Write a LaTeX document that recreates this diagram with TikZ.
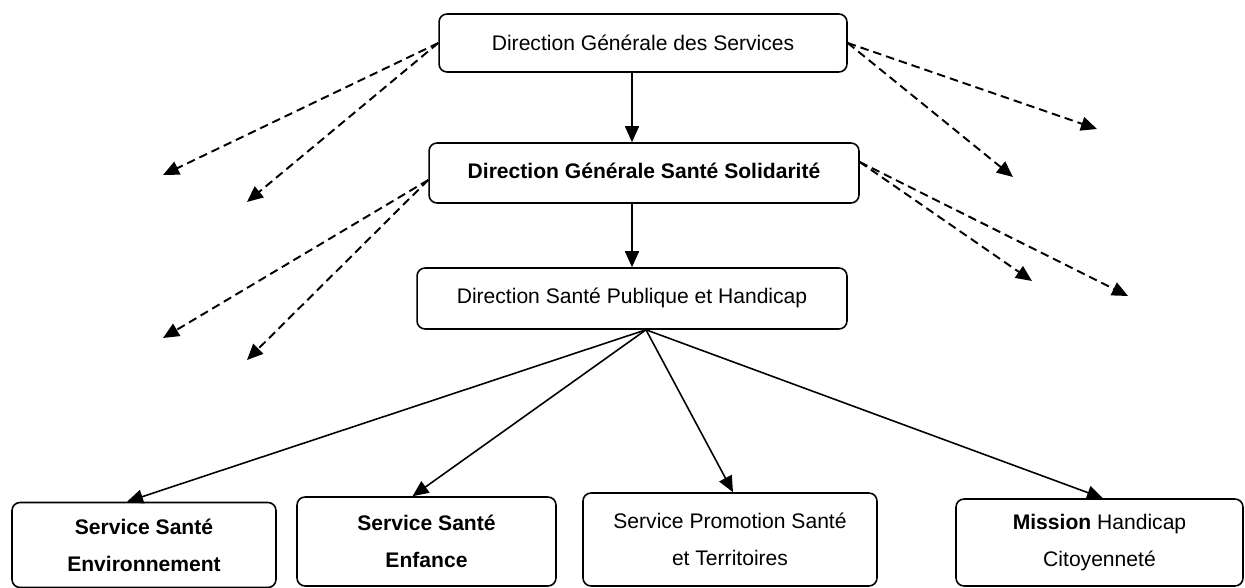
\documentclass[tikz,border=0pt]{standalone}
\usepackage{fontspec}
\setmainfont{Liberation Sans}
\usepackage{tikz}
\usetikzlibrary{arrows.meta, positioning}

\tikzset{
  box/.style={draw, line width=0.9pt, rounded corners=0.16cm, align=center,
              inner sep=0pt, font=\fontsize{12pt}{21pt}\selectfont},
  plain/.style={-{Triangle[length=0.32cm,width=0.28cm]}, line width=0.9pt},
  dashy/.style={plain, line width=1.1pt, dash pattern=on 0.17cm off 0.1cm}
}

\begin{document}
\begin{tikzpicture}[x=0.02cm, y=-0.02cm]
\useasboundingbox (0,0) rectangle (1245,588);
%
\node[box, minimum width=8.16cm, minimum height=1.16cm] (dgs)  at (643,43)
  {Direction Générale des Services};
\node[box, minimum width=8.6cm, minimum height=1.2cm] (dgss) at (644,173)
  {\raisebox{0.1cm}{\bfseries Direction Générale Santé Solidarité}};
\node[box, minimum width=8.6cm, minimum height=1.22cm] (dsph) at (632,298.5)
  {\raisebox{0.1cm}{Direction Santé Publique et Handicap}};
%
\node[box, minimum width=5.28cm, minimum height=1.7cm] (sse) at (144,545)
  {\bfseries Service Santé\\ \bfseries Environnement};
\node[box, minimum width=5.18cm, minimum height=1.78cm] (ssenf) at (426.5,541.5)
  {\bfseries Service Santé\\ \bfseries Enfance};
\node[box, minimum width=5.88cm, minimum height=1.86cm] (spst) at (730,539.5)
  {Service Promotion Santé\\ et Territoires};
\node[box, minimum width=5.74cm, minimum height=1.74cm] (mhc) at (1099.5,542.5)
  {\textbf{Mission} Handicap\\ Citoyenneté};
%
\coordinate (fan) at ([xshift=0.28cm]dsph.south);
\coordinate (l1) at (163,175);
\coordinate (l2) at (247,202);
\coordinate (l3) at (163,338);
\coordinate (l4) at (247,360);
\coordinate (r1) at (1097,129);
\coordinate (r2) at (1013,177);
\coordinate (r3) at (1032,281);
\coordinate (r4) at (1128,296);
%
\draw[plain] (dgs.south -| dsph.north) -- (dgss.north -| dsph.north);
\draw[plain] (dgss.south -| dsph.north) -- (dsph.north);
\draw[plain] (fan) -- ([xshift=-0.34cm]sse.north);
\draw[plain] (fan) -- ([xshift=-0.28cm]ssenf.north);
\draw[plain] (fan) -- ([xshift=0.06cm]spst.north);
\draw[plain] (fan) -- ([xshift=0.07cm]mhc.north);
%
\draw[dashy] (dgs.west) -- (l1);
\draw[dashy] (dgs.west) -- (l2);
\draw[dashy] (dgs.east) -- (r1);
\draw[dashy] (dgs.east) -- (r2);
\draw[dashy] ([yshift=-0.14cm]dgss.west) -- (l3);
\draw[dashy] ([yshift=-0.14cm]dgss.west) -- (l4);
\draw[dashy] ([yshift=0.22cm]dgss.east) -- (r3);
\draw[dashy] ([yshift=0.22cm]dgss.east) -- (r4);
%
\end{tikzpicture}
\end{document}
